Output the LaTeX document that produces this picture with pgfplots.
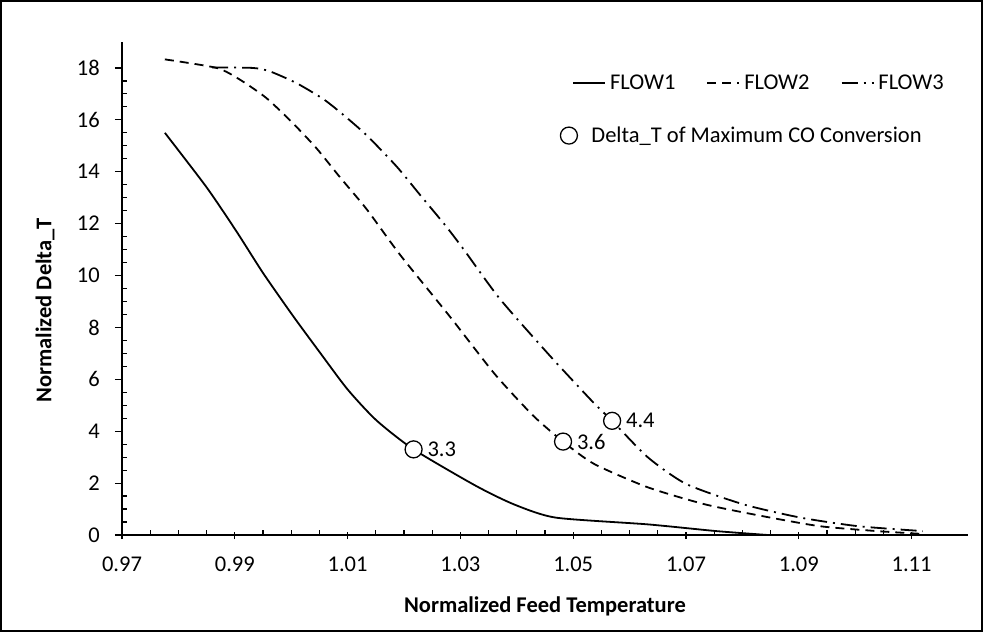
\documentclass[border=0pt]{standalone}
\usepackage{fontspec}
\setmainfont{Carlito}
\usepackage{pgfplots}
\pgfplotsset{compat=1.18}
\newcommand{\cf}{\fontsize{22.5}{27}\selectfont}
\begin{document}
\begin{tikzpicture}
\useasboundingbox (-122pt,-97pt) rectangle (861pt,535pt);
\draw[line width=1.3pt] (-121pt,-96pt) rectangle (860pt,534pt);
\begin{axis}[
  at={(0pt,0pt)}, anchor=south west,
  scale only axis, width=846pt, height=493pt,
  xmin=0.97, xmax=1.12, ymin=0, ymax=19,
  axis lines=left,
  axis line style={line width=1.8pt, -},
  xtick={0.97,0.99,1.01,1.03,1.05,1.07,1.09,1.11},
  xticklabels={0.97,0.99,1.01,1.03,1.05,1.07,1.09,1.11},
  ytick={0,2,4,6,8,10,12,14,16,18},
  yticklabels={0,2,4,6,8,10,12,14,16,18},
  minor x tick num=3, minor y tick num=3,
  tick align=outside, major tick length=7pt, minor tick length=5pt,
  every tick/.style={black, line width=1.2pt},
  minor x tick style={yshift=5pt},
  minor y tick style={xshift=5pt},
  major x tick style={yshift=3pt},
  tick label style={font=\cf, inner sep=0pt},
  xticklabel shift=15pt, yticklabel shift=15pt,
  xlabel={\bfseries Normalized Feed Temperature},
  ylabel={\bfseries Normalized Delta\_T},
  xlabel style={font=\cf, at={(axis description cs:0.5,-0.144)}, anchor=center},
  ylabel style={font=\cf, at={(axis description cs:-0.091,0.456)}, anchor=center},
  legend columns=3,
  legend cell align=left,
  legend style={draw=none, fill=none, font=\cf, inner sep=0pt,
    at={(axis description cs:0.532,0.937)}, anchor=north west,
    nodes={inner xsep=4pt, inner ysep=2pt},
    /tikz/every even column/.append style={column sep=27pt}},
  legend image code/.code={\draw[#1] (0pt,0pt) -- (32pt,0pt);},
]
\addplot[black, line width=1.8pt, smooth, tension=0.4] table {
x y
0.9776 15.5
0.9850 13.4
0.9903 11.7
0.9950 10.1
1.0003 8.45
1.0051 7.03
1.0100 5.61
1.0151 4.42
1.0217 3.30
1.0327 1.90
1.0395 1.18
1.0469 0.67
1.0632 0.41
1.0754 0.15
1.0845 0.00
};
\addlegendentry{FLOW1}
\addplot[black, line width=1.8pt, dash pattern=on 9pt off 6pt, smooth, tension=0.4] table {
x y
0.9776 18.33
0.9868 18.00
0.9909 17.55
0.9956 16.84
1.0003 15.87
1.0045 14.90
1.0086 13.80
1.0134 12.55
1.0193 10.80
1.0282 8.40
1.0361 6.20
1.0429 4.60
1.0482 3.60
1.0537 2.74
1.0632 1.84
1.0734 1.18
1.0835 0.73
1.0937 0.34
1.1039 0.15
1.1120 0.04
};
\addlegendentry{FLOW2}
\addplot[black, line width=1.8pt, dash pattern=on 16pt off 6pt on 2pt off 6pt, smooth, tension=0.4] table {
x y
0.9860 18.02
0.9932 18.00
0.9962 17.87
1.0009 17.42
1.0057 16.80
1.0092 16.20
1.0134 15.40
1.0187 14.20
1.0231 13.04
1.0273 11.94
1.0305 11.03
1.0370 9.10
1.0459 6.90
1.0536 5.10
1.0569 4.40
1.0632 3.00
1.0700 1.97
1.0802 1.18
1.0903 0.67
1.1005 0.34
1.1120 0.15
};
\addlegendentry{FLOW3}
\addplot[forget plot, only marks, mark=*, mark size=8.5pt,
  mark options={fill=white, draw=black, line width=1.3pt, solid},
  nodes near coords, point meta=explicit symbolic,
  nodes near coords style={font=\cf, anchor=west, xshift=10pt}]
  table[meta=lab] {
x y lab
1.0217 3.30 3.3
1.0482 3.60 3.6
1.0569 4.40 4.4
};
\end{axis}
\begin{axis}[
  at={(0pt,0pt)}, anchor=south west,
  scale only axis, width=846pt, height=493pt,
  hide axis, xmin=0, xmax=1, ymin=0, ymax=1,
  legend style={draw=none, fill=none, font=\cf, inner sep=0pt,
    at={(axis description cs:0.518,0.832)}, anchor=north west,
    nodes={inner xsep=14pt, inner ysep=2pt}},
]
\addlegendimage{only marks, mark=*, mark size=8.5pt, mark options={fill=white, draw=black, line width=1.3pt}}
\addlegendentry{Delta\_T of Maximum CO Conversion}
\end{axis}
\end{tikzpicture}
\end{document}
